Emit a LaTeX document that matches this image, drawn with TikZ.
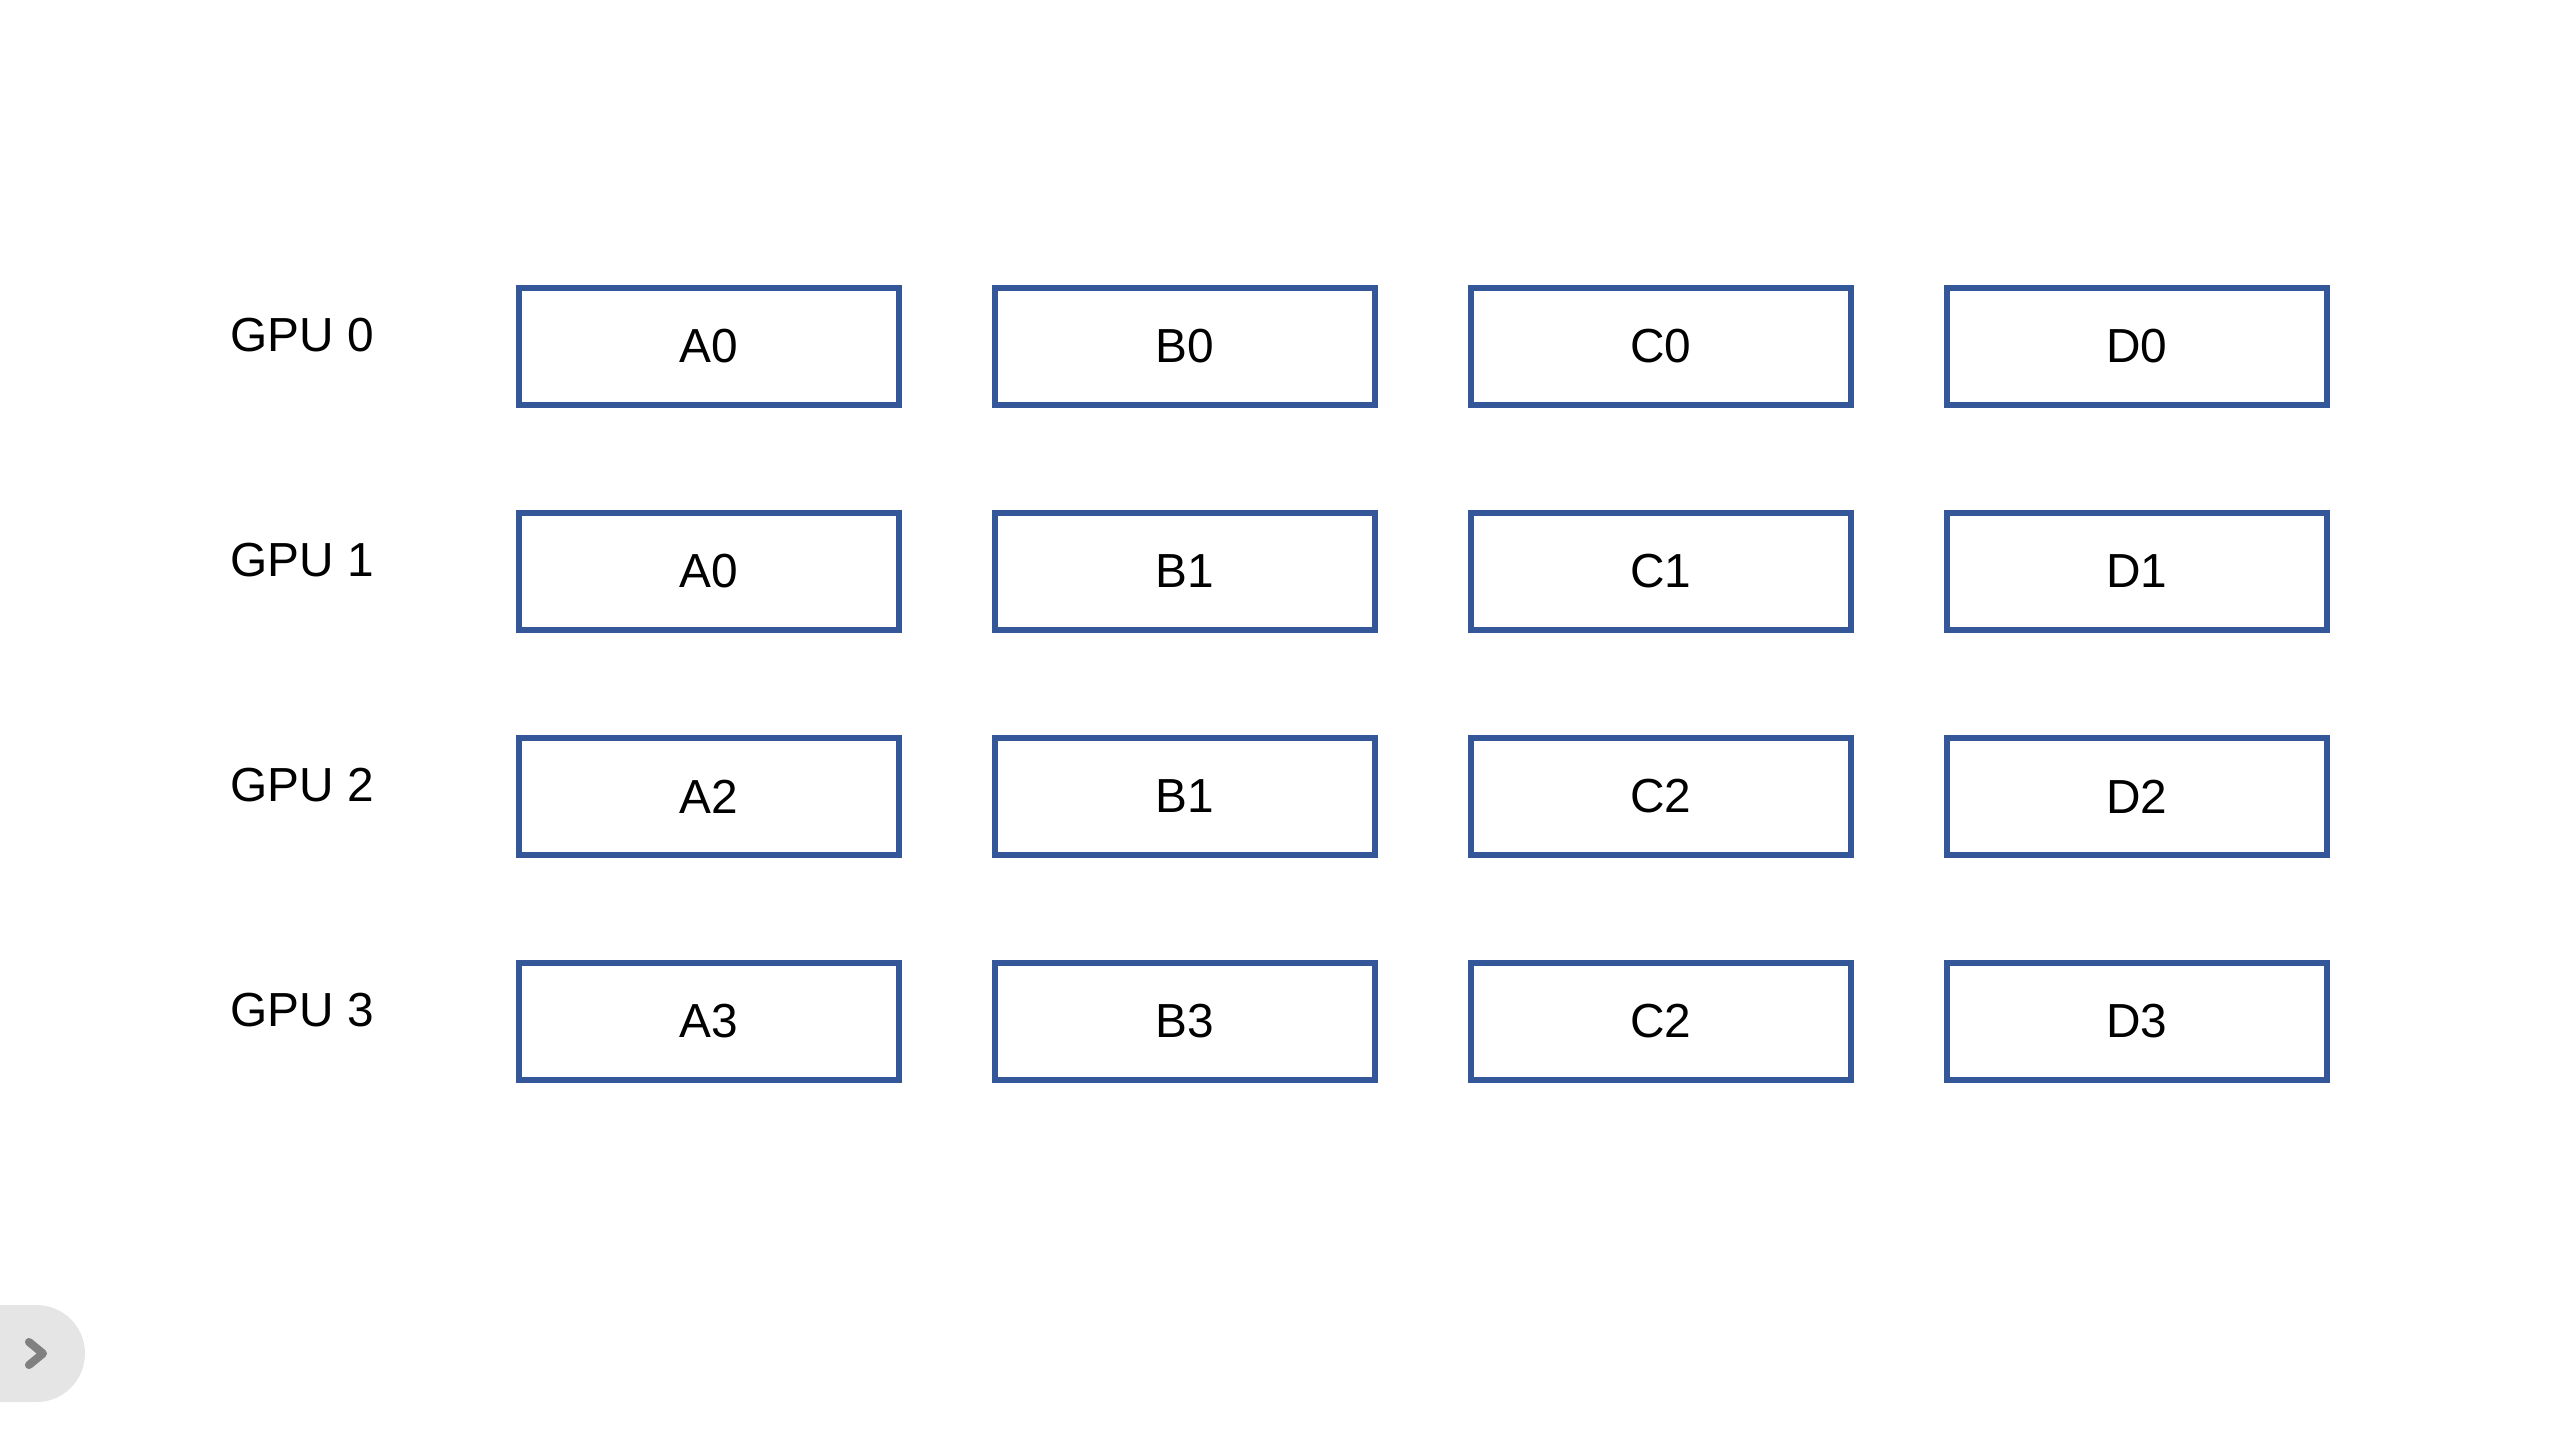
\documentclass[tikz,border=0pt]{standalone}
\usepackage{fontspec}
\setmainfont{Liberation Sans}
\definecolor{cellblue}{RGB}{51,87,153}
\definecolor{tabgrey}{RGB}{229,229,229}
\definecolor{arrowgrey}{RGB}{128,128,128}
\tikzset{cell/.style={draw=cellblue, line width=1.7pt, minimum width=38mm, minimum height=11.7mm, inner sep=0pt, font=\fontsize{13.6}{16}\selectfont}}
\tikzset{gpulabel/.style={anchor=base west, inner sep=0pt, font=\fontsize{13.6}{16}\selectfont}}

\begin{document}
\begin{tikzpicture}[x=0.1mm, y=-0.1mm]
\useasboundingbox (0,0) rectangle (2560,1440);
% one row per GPU
\foreach \r/\a/\b/\c/\d in {0/A0/B0/C0/D0, 1/A0/B1/C1/D1, 2/A2/B1/C2/D2, 3/A3/B3/C2/D3}
{
\node[gpulabel] (gpu\r) at (230, 352+225*\r) {GPU \r};
\node[cell] (cell\r a) at (709, 346.5+225*\r) {\a};
\node[cell] (cell\r b) at (1185, 346.5+225*\r) {\b};
\node[cell] (cell\r c) at (1661, 346.5+225*\r) {\c};
\node[cell] (cell\r d) at (2137, 346.5+225*\r) {\d};
}
% side tab
\fill[tabgrey, rounded corners=4.85mm] (-60,1305) rectangle (85,1402);
\draw[arrowgrey, line width=2.3pt, line cap=round, line join=round] (29,1342) -- (43,1353.5) -- (29,1365);
\end{tikzpicture}
\end{document}
